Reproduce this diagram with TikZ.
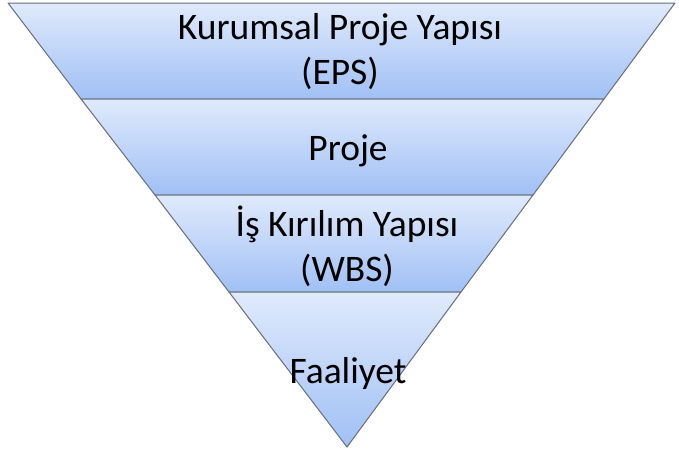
\documentclass[tikz,border=0pt]{standalone}
\usepackage{fontspec}
\setmainfont{Carlito}
\definecolor{layertop}{RGB}{224,234,252}
\definecolor{layerbot}{RGB}{160,192,245}
\definecolor{layeredge}{RGB}{105,110,120}
\tikzset{
  layer/.style={draw=layeredge, line width=1pt, line join=round, top color=layertop, bottom color=layerbot},
  label/.style={align=center, font=\fontsize{37.5}{45}\selectfont}
}
\begin{document}
\begin{tikzpicture}[x=1pt,y=-1pt]
\useasboundingbox (0,0) rectangle (679,450);
\coordinate (l0) at (8,3);
\coordinate (r0) at (675,3);
\coordinate (l1) at (81,99);
\coordinate (r1) at (604,99);
\coordinate (l2) at (155,195);
\coordinate (r2) at (533,195);
\coordinate (l3) at (229,292);
\coordinate (r3) at (461,292);
\coordinate (apex) at (347,447);
\draw [layer] (l0) -- (r0) -- (r1) -- (l1) -- cycle;
\draw [layer] (l1) -- (r1) -- (r2) -- (l2) -- cycle;
\draw [layer] (l2) -- (r2) -- (r3) -- (l3) -- cycle;
\draw [layer] (l3) -- (r3) -- (apex) -- cycle;
\node [label] (eps) at (340,52) {Kurumsal Proje Yapısı\\(EPS)};
\node [label] (proje) at (348,151) {Proje};
\node [label] (wbs) at (347,246) {İş Kırılım Yapısı\\(WBS)};
\node [label] (faaliyet) at (348,373) {Faaliyet};
\end{tikzpicture}
\end{document}
